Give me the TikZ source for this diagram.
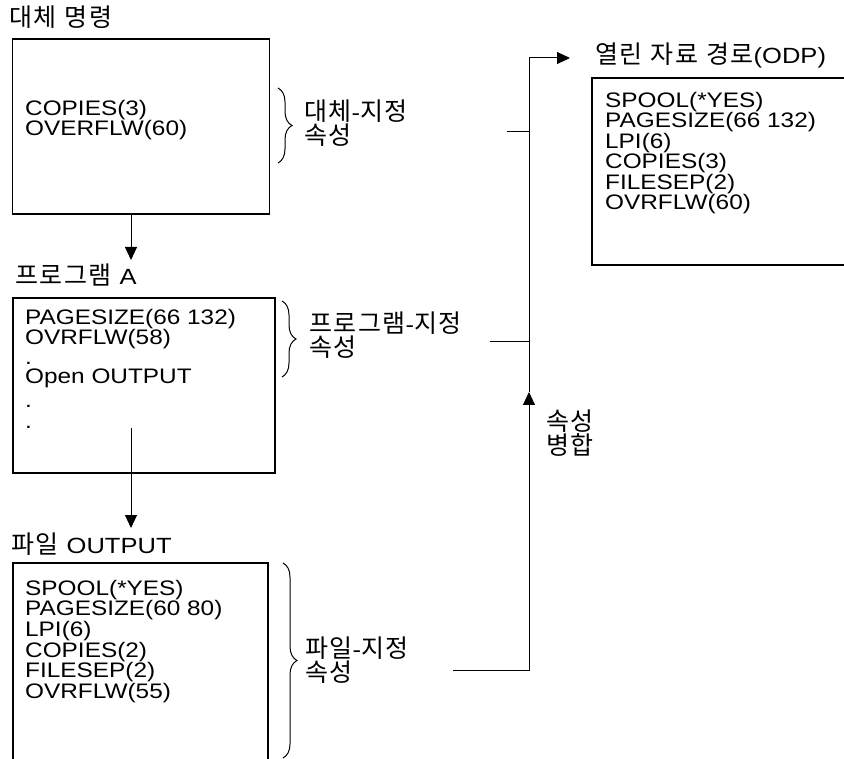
\documentclass[tikz,border=0pt]{standalone}
\usepackage{fontspec}
\setmainfont{Liberation Sans}[FakeStretch=1.16]
\newfontfamily\kr{Noto Sans CJK KR}[LetterSpace=6]
\usetikzlibrary{arrows.meta,decorations.pathreplacing,calc}
\newcommand\wsp{\hspace{8pt}}
\newcommand\lat[1]{{\normalfont\fontsize{22pt}{22pt}\selectfont #1}}
\begin{document}
\begin{tikzpicture}[x=1pt,y=-1pt,
  frame/.style={draw, line width=1.3pt, inner sep=0pt, outer sep=0pt, anchor=north west},
  body/.style={anchor=north west, inner sep=0pt, align=left, font=\fontsize{21pt}{18.7pt}\selectfont},
  title/.style={anchor=base west, inner sep=0pt, font=\fontsize{25pt}{22pt}\selectfont},
  lbl/.style={anchor=west, inner sep=0pt, align=left, font=\fontsize{25pt}{22.5pt}\selectfont},
  conn/.style={line width=1pt},
  tip/.style={-{Triangle[length=13pt,width=12pt]}},
  brc/.style={decorate, decoration={brace, amplitude=14pt}, line width=1pt}]
\useasboundingbox (0,0) rectangle (844,759);

% alternative command box
\node[title] (t1) at (9,27) {\kr 대체\wsp 명령};
\node[frame, minimum width=257pt, minimum height=175pt] (altbox) at (12.5,39) {};
\node[body] (b1) at (25,99.7) {COPIES(3)\\OVERFLW(60)};

% program A box
\node[title] (t2) at (15,285) {\kr 프로그램\wsp\lat{A}};
\node[frame, minimum width=262pt, minimum height=175pt] (progbox) at (13,298) {};
\node[body] (b2) at (25,309) {PAGESIZE(66 132)\\OVRFLW(58)\\[0.5pt].\\[0.5pt]Open OUTPUT\\[5pt].\\[2.5pt].};

% file OUTPUT box
\node[title] (t3) at (11,553) {\kr 파일\wsp\lat{OUTPUT}};
\node[frame, minimum width=255pt, minimum height=215pt] (filebox) at (13,563) {};
\node[body] (b3) at (25,580) {SPOOL(*YES)\\PAGESIZE(60 80)\\LPI(6)\\COPIES(2)\\FILESEP(2)\\OVRFLW(55)};

% ODP box
\node[title] (t4) at (595,64) {\kr 열린\wsp 자료\wsp 경로\lat{(ODP)}};
\node[frame, minimum width=270pt, minimum height=187pt] (odpbox) at (592,78) {};
\node[body] (b4) at (605,91.7) {SPOOL(*YES)\\PAGESIZE(66 132)\\LPI(6)\\COPIES(3)\\FILESEP(2)\\OVRFLW(60)};

% braces and labels
\draw[brc] (278,88) -- (278,163);
\node[lbl] (l1) at (304,123) {{\kr 대체}\lat{-}{\kr 지정}\\{\kr 속성}};
\draw[brc] (282,301) -- (282,377);
\node[lbl] (l2) at (309,335) {{\kr 프로그램}\lat{-}{\kr 지정}\\{\kr 속성}};
\draw[brc] (283,563) -- (283,758);
\node[lbl] (l3) at (305,660) {{\kr 파일}\lat{-}{\kr 지정}\\{\kr 속성}};
\node[lbl] (l4) at (546,433) {{\kr 속성}\\{\kr 병합}};

% connectors
\coordinate (mup) at (529,392);
\coordinate (c1) at (507,132);
\coordinate (c2) at (490,342);
\coordinate (c3) at (453,670);
\coordinate (c4) at (570,58);
\coordinate (a1) at (131,260);
\coordinate (a2s) at (131,428);
\coordinate (a2) at (131,528);

\draw[conn] (c1) -- (c1 -| mup);
\draw[conn] (c2) -- (c2 -| mup);
\draw[conn, tip] (c3) -| (mup);
\draw[conn, tip] (mup) |- (c4);
\draw[conn, tip] (a1 |- altbox.south) -- (a1);
\draw[conn, tip] (a2s) -- (a2);
\end{tikzpicture}
\end{document}
